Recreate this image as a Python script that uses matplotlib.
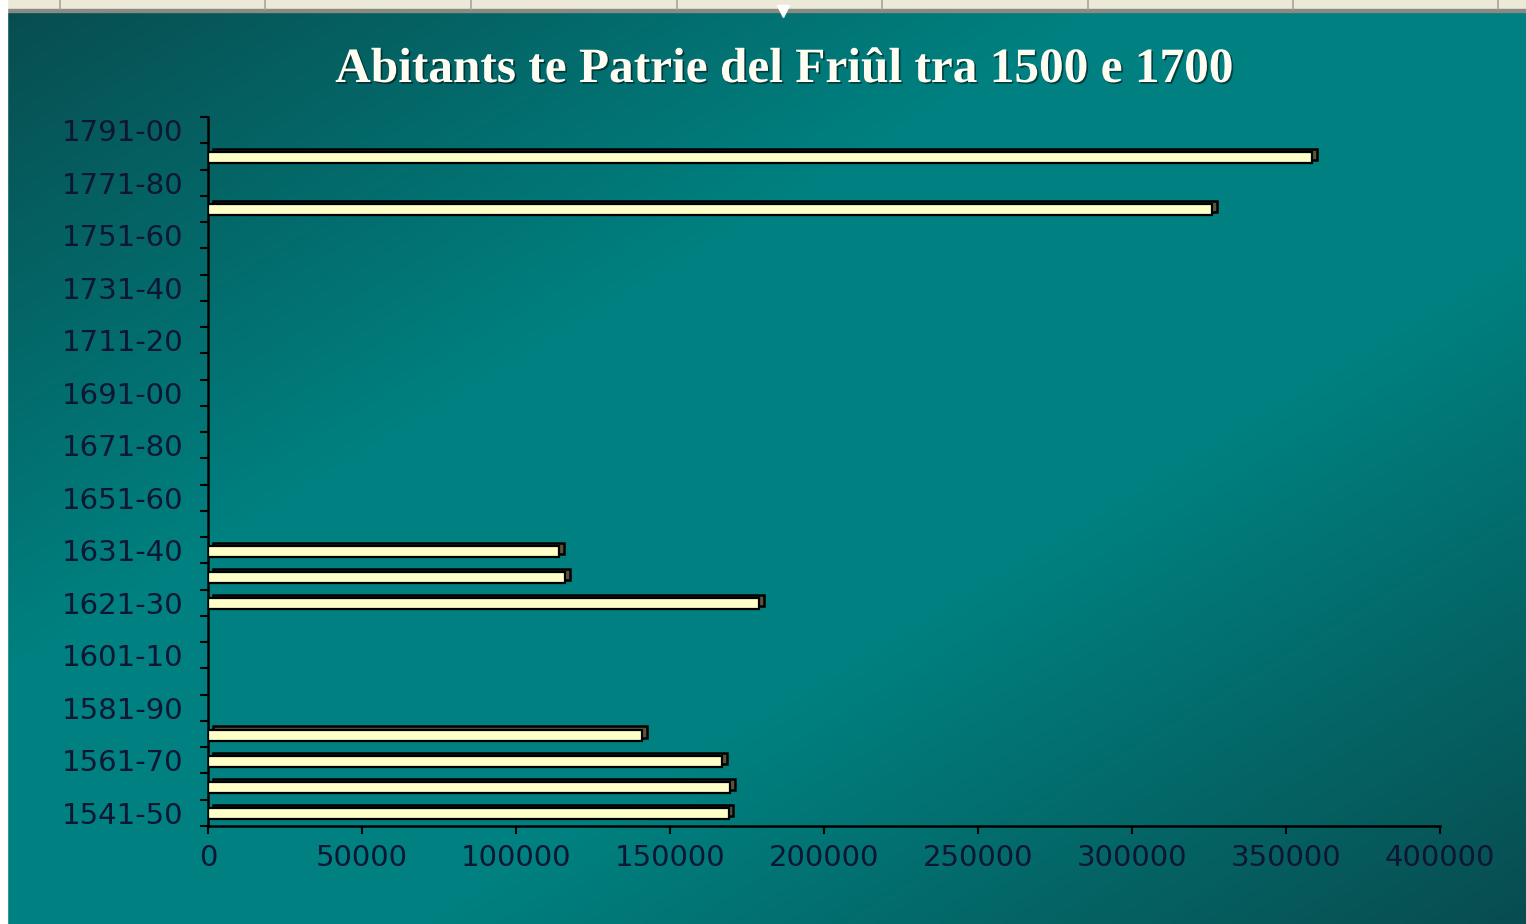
import numpy as np
import matplotlib
matplotlib.use("Agg")
import matplotlib.pyplot as plt
import matplotlib.patheffects as pe
from matplotlib.ticker import FixedLocator, NullFormatter

# ---- data ----
periods = ["1541-50", "1551-60", "1561-70", "1571-80", "1581-90", "1591-00",
           "1601-10", "1611-20", "1621-30", "1626-30", "1631-40", "1641-50",
           "1651-60", "1661-70", "1671-80", "1681-90", "1691-00", "1701-10",
           "1711-20", "1721-30", "1731-40", "1741-50", "1751-60", "1761-70",
           "1771-80", "1781-90", "1791-00"]
inhabitants = [169000, 169500, 167000, 141000, 0, 0,
               0, 0, 179000, 116000, 114000, 0,
               0, 0, 0, 0, 0, 0,
               0, 0, 0, 0, 0, 326000,
               0, 358500, 0]
x_ticks = [0, 50000, 100000, 150000, 200000, 250000, 300000, 350000, 400000]
title = "Abitants te Patrie del Friûl tra 1500 e 1700"

W, H = 1526, 924
fig = plt.figure(figsize=(W / 100, H / 100), dpi=100)

# ---- background gradient ----
bg = fig.add_axes([0, 0, 1, 1], zorder=0)
yy, xx = np.mgrid[0:H:2, 0:W:2]
t = xx / W + yy / H
d = np.abs(t - 1.0)
w = np.clip((1.0 - d) / 0.72, 0, 1)
dark = np.array([8, 76, 78]) / 255
bright = np.array([0, 128, 128]) / 255
img = dark[None, None, :] * (1 - w[..., None]) + bright[None, None, :] * w[..., None]
bg.imshow(img, extent=[0, W, H, 0], aspect="auto", interpolation="bilinear")
bg.set_xlim(0, W)
bg.set_ylim(H, 0)
bg.axis("off")
# window chrome: top ruler strip and left white strip
bg.add_patch(plt.Rectangle((0, 0), W, 9, color="#ece9d8", zorder=2))
bg.add_patch(plt.Rectangle((0, 9), W, 3, color="#8a8a84", zorder=2))
for xr in [60, 265, 471, 677, 882, 1088, 1293, 1498]:
    bg.plot([xr, xr], [0, 9], color="#a8a498", lw=1.2, zorder=3)
bg.add_patch(plt.Rectangle((0, 0), 7, H, color="white", zorder=2))
bg.plot([783], [11], marker="v", color="white", markersize=8, zorder=4)

# ---- main axes ----
ax = fig.add_axes([208 / W, 1 - 826 / H, 1232 / W, 709 / H], zorder=1)
ax.set_facecolor("none")
ypos = np.arange(len(periods))
vals = np.array(inhabitants, dtype=float)
mask = vals > 0
dx = 1500
ax.barh(ypos[mask] + 0.08, vals[mask], left=dx, height=0.42,
        color="#5a563c", edgecolor="black", linewidth=1.8, zorder=2)
ax.barh(ypos[mask] - 0.04, vals[mask], height=0.42,
        color="#ffffc8", edgecolor="black", linewidth=1.6, zorder=3)

ax.set_xlim(0, 400000)
ax.set_ylim(-0.5, len(periods) - 0.5)
ax.set_xticks(x_ticks)
ax.set_xticklabels([str(v) for v in x_ticks])
ax.set_yticks(ypos[::2])
ax.set_yticklabels(periods[::2])
ax.yaxis.set_minor_locator(FixedLocator(np.arange(-0.5, len(periods), 1.0)))
ax.yaxis.set_minor_formatter(NullFormatter())
for s in ["top", "right"]:
    ax.spines[s].set_visible(False)
for s in ["left", "bottom"]:
    ax.spines[s].set_color("black")
    ax.spines[s].set_linewidth(1.8)
lab_color = "#0d1733"
ax.tick_params(axis="y", which="major", length=0, pad=18,
               labelsize=21, labelcolor=lab_color)
ax.tick_params(axis="y", which="minor", length=6, width=1.5, color="black", direction="out")
ax.tick_params(axis="x", which="major", length=6, width=1.5, color="black",
               pad=7, labelsize=21, labelcolor=lab_color)
for lab in ax.get_xticklabels() + ax.get_yticklabels():
    lab.set_family("DejaVu Sans")

fig.text(784 / W, 1 - 82 / H, title, ha="center", va="baseline",
         fontsize=35.5, fontweight="bold", family="Liberation Serif", color="#fffdf2",
         path_effects=[pe.withSimplePatchShadow(offset=(1.2, -1.2), shadow_rgbFace="black", alpha=0.5)])

fig.savefig("out.png", dpi=100)
